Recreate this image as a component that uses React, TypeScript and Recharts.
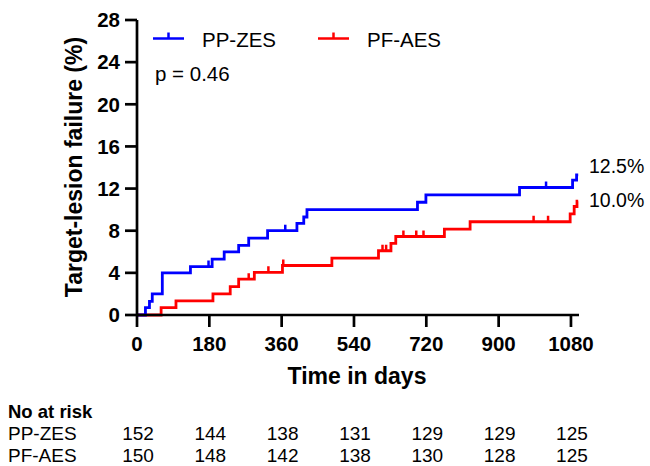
import React from "react";
import { ComposedChart, Line, Scatter, XAxis, YAxis } from "recharts";

// Kaplan-Meier step points: [day, cumulative failure %]
const ppZesSteps: [number, number][] = [
  [0, 0], [21, 0.7], [31, 1.3], [38, 2.0], [63, 4.0], [133, 4.6], [187, 5.3],
  [217, 6.0], [253, 6.6], [278, 7.3], [325, 8.0], [398, 8.7], [415, 9.3],
  [423, 10.0], [698, 10.7], [719, 11.4], [952, 12.1], [1084, 12.8],
  [1094, 13.3], [1098, 13.3],
];
const pfAesSteps: [number, number][] = [
  [0, 0], [60, 0.7], [97, 1.35], [189, 2.0], [232, 2.7], [253, 3.4],
  [292, 4.05], [362, 4.7], [485, 5.4], [601, 6.1], [632, 6.8], [644, 7.45],
  [765, 8.15], [829, 8.85], [1078, 9.6], [1088, 10.3], [1095, 10.8],
  [1098, 10.8],
];
// censored observation days
const ppZesCensor = [178, 369, 1018];
const pfAesCensor = [278, 327, 364, 611, 620, 663, 695, 713, 987, 1023];

const xTicks = [0, 180, 360, 540, 720, 900, 1080];
const yTicks = [0, 4, 8, 12, 16, 20, 24, 28];
const atRiskPP = [152, 144, 138, 131, 129, 129, 125];
const atRiskPF = [150, 148, 142, 138, 130, 128, 125];

const seriesNames = ["PP-ZES", "PF-AES"];
const finalLabels = ["12.5%", "10.0%"];
const pValue = "p = 0.46";

const BLUE = "#0000ff";
const RED = "#ff0000";
const FONT = "'Liberation Sans', Arial, Helvetica, sans-serif";

const W = 650;
const H = 466;
const LEFT = 137;
const RIGHT_M = 71;
const TOP = 20;
const X_AXIS_H = 151;
const X_MAX = 1100;

const toRows = (s: [number, number][]) => s.map(([t, v]) => ({ t, v }));
const levelAt = (s: [number, number][], day: number) => {
  let v = 0;
  for (const [t, val] of s) if (t <= day) v = val;
  return v;
};
const censorRows = (s: [number, number][], days: number[]) =>
  days.map((t) => ({ t, v: levelAt(s, t) }));

const tickShape = (color: string) => (props: any) => {
  const { cx, cy } = props;
  if (cx == null || cy == null) return <g />;
  return <line x1={cx} y1={cy} x2={cx} y2={cy - 6} stroke={color} strokeWidth={2.5} />;
};

const dayToX = (d: number) => LEFT + (d / X_MAX) * (W - RIGHT_M - LEFT);

export default function App() {
  const tickStyle = { fill: "#000", fontSize: 20.5, fontWeight: 700, fontFamily: FONT };
  return (
    <div style={{ position: "absolute", left: 0, top: 0, width: W, height: H, background: "#fff", overflow: "hidden" }}>
      <ComposedChart width={W} height={H} margin={{ top: TOP, right: RIGHT_M, bottom: 0, left: 0 }}>
        <XAxis
          type="number"
          dataKey="t"
          domain={[0, X_MAX]}
          ticks={xTicks}
          allowDataOverflow
          height={X_AXIS_H}
          tickSize={12}
          tickMargin={9}
          axisLine={{ stroke: "#000", strokeWidth: 2.7 }}
          tickLine={{ stroke: "#000", strokeWidth: 2.7 }}
          tick={tickStyle}
        />
        <YAxis
          type="number"
          domain={[0, 28]}
          ticks={yTicks}
          width={LEFT}
          tickSize={12}
          tickMargin={5}
          axisLine={{ stroke: "#000", strokeWidth: 2.7 }}
          tickLine={{ stroke: "#000", strokeWidth: 2.7 }}
          tick={tickStyle}
        />
        <Line
          data={toRows(pfAesSteps)}
          dataKey="v"
          type="stepAfter"
          stroke={RED}
          strokeWidth={2.8}
          dot={false}
          activeDot={false}
          isAnimationActive={false}
        />
        <Line
          data={toRows(ppZesSteps)}
          dataKey="v"
          type="stepAfter"
          stroke={BLUE}
          strokeWidth={2.8}
          dot={false}
          activeDot={false}
          isAnimationActive={false}
        />
        <Scatter
          data={censorRows(pfAesSteps, pfAesCensor)}
          dataKey="v"
          shape={tickShape(RED)}
          isAnimationActive={false}
        />
        <Scatter
          data={censorRows(ppZesSteps, ppZesCensor)}
          dataKey="v"
          shape={tickShape(BLUE)}
          isAnimationActive={false}
        />
      </ComposedChart>

      <svg
        width={W}
        height={H}
        style={{ position: "absolute", left: 0, top: 0, pointerEvents: "none" }}
        fontFamily={FONT}
        fill="#000"
      >
        {/* Y axis title */}
        <text
          x={0}
          y={0}
          transform="translate(82,167) rotate(-90)"
          textAnchor="middle"
          fontSize={23}
          fontWeight={700}
        >
          Target-lesion failure (%)
        </text>

        {/* X axis title */}
        <text x={357} y={384} textAnchor="middle" fontSize={23} fontWeight={700}>
          Time in days
        </text>

        {/* legend */}
        <line x1={153} y1={38.5} x2={184} y2={38.5} stroke={BLUE} strokeWidth={2.5} />
        <line x1={168.5} y1={38.5} x2={168.5} y2={32.5} stroke={BLUE} strokeWidth={2.5} />
        <text x={202} y={46.7} fontSize={20.5}>{seriesNames[0]}</text>
        <line x1={318} y1={38.5} x2={349} y2={38.5} stroke={RED} strokeWidth={2.5} />
        <line x1={333.5} y1={38.5} x2={333.5} y2={32.5} stroke={RED} strokeWidth={2.5} />
        <text x={367} y={46.7} fontSize={20.5}>{seriesNames[1]}</text>
        <text x={155} y={81} fontSize={20.5}>{pValue}</text>

        {/* final estimates */}
        <text x={589} y={173} fontSize={19.5}>{finalLabels[0]}</text>
        <text x={589} y={207} fontSize={19.5}>{finalLabels[1]}</text>

        {/* numbers at risk */}
        <text x={8} y={417.5} fontSize={18.5} fontWeight={700}>No at risk</text>
        <text x={8} y={440} fontSize={19}>{seriesNames[0]}</text>
        <text x={8} y={461.5} fontSize={19}>{seriesNames[1]}</text>
        {xTicks.map((d, i) => (
          <React.Fragment key={d}>
            <text x={dayToX(d) + 1} y={440} fontSize={19} textAnchor="middle">{atRiskPP[i]}</text>
            <text x={dayToX(d) + 1} y={461.5} fontSize={19} textAnchor="middle">{atRiskPF[i]}</text>
          </React.Fragment>
        ))}
      </svg>
    </div>
  );
}
